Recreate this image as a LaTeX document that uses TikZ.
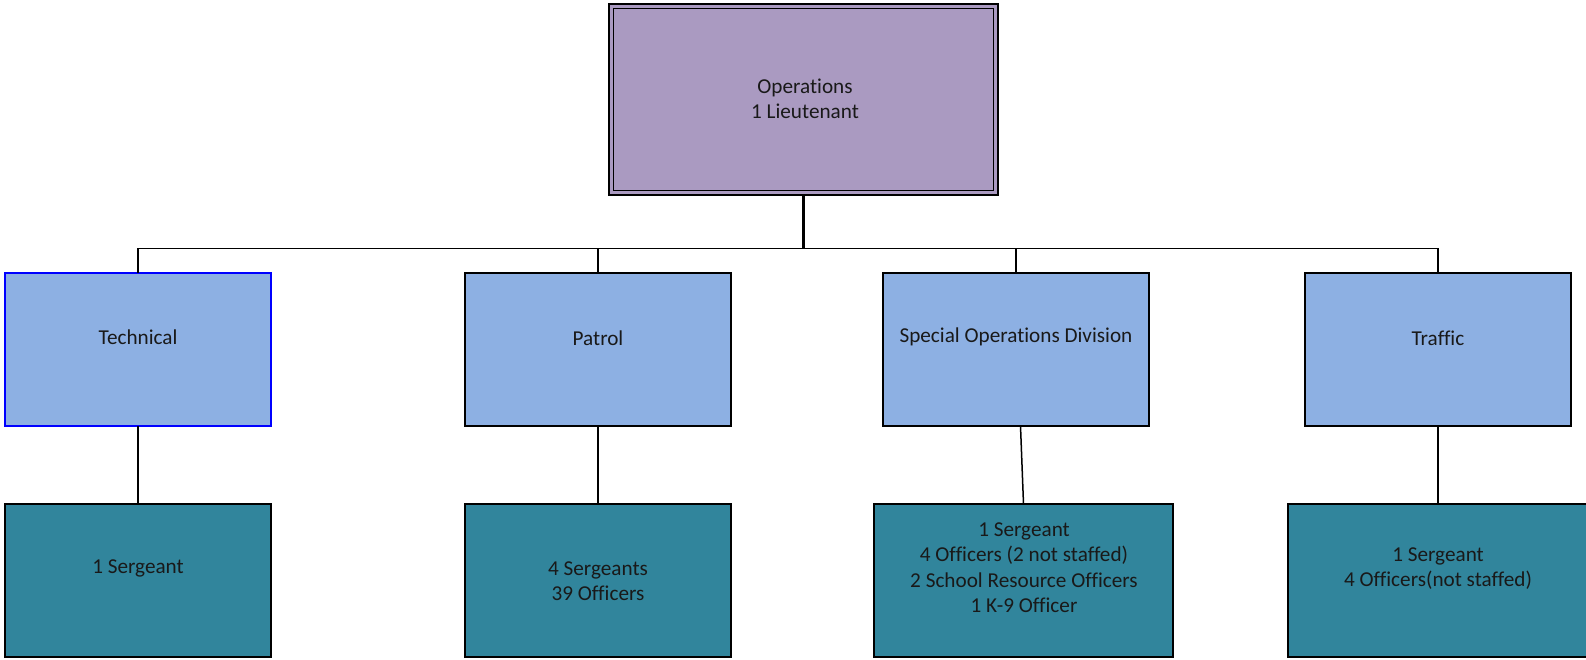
\documentclass[tikz,border=0pt]{standalone}
\usepackage{fontspec}
\setmainfont{Carlito}[Ligatures=NoCommon]
\usetikzlibrary{calc}
\definecolor{opsfill}{HTML}{AA9AC1}
\definecolor{unitfill}{HTML}{8DB0E3}
\definecolor{stafffill}{HTML}{31859C}
\begin{document}
\begin{tikzpicture}[x=1pt,y=-1pt,
  box/.style={draw=black, line width=1.5pt, minimum width=266pt, minimum height=153pt, inner sep=0pt, outer sep=0pt},
  unit/.style={box, fill=unitfill},
  staff/.style={box, fill=stafffill},
  lbl/.style={align=center, font=\fontsize{21.2}{25.5}\selectfont, inner sep=0pt, text=black!90},
  link/.style={draw=black, line width=1.5pt, line join=miter}]
\useasboundingbox (0,0) rectangle (1586,659);

% top box with a double frame
\node[draw=black, line width=2pt, fill=opsfill, minimum width=389pt, minimum height=191pt, inner sep=0pt, outer sep=0pt] (ops) at (803.5,99.5) {};
\draw[line width=1.5pt] ($(ops.north west)+(4.5,4.5)$) rectangle ($(ops.south east)+(-4.5,-4.5)$);
\node[lbl] (ops-t) at (805,99) {Operations\\ 1 Lieutenant};

% second row
\node[unit, draw=blue] (tech) at (138,349.5) {};
\node[unit] (patrol) at (598,349.5) {};
\node[unit] (sod) at (1016,349.5) {};
\node[unit] (traffic) at (1438,349.5) {};
\node[lbl] (tech-t) at (138,337) {Technical};
\node[lbl] (patrol-t) at (598,338) {Patrol};
\node[lbl] (sod-t) at (1016,337) {Special Operations Division};
\node[lbl] (traffic-t) at (1438,338) {Traffic};

% third row
\node[staff] (techb) at (138,580.5) {};
\node[staff] (patrolb) at (598,580.5) {};
\node[staff, minimum width=299pt] (sodb) at (1023.5,580.5) {};
\node[staff, minimum width=300pt] (trafficb) at (1438,580.5) {};
\node[lbl] (techb-t) at (138,568) {1 Sergeant};
\node[lbl] (patrolb-t) at (598,581) {4 Sergeants\\39 Officers};
\node[lbl] (sodb-t) at (1024,567.5) {1 Sergeant\\4 Officers (2 not staffed)\\2 School Resource Officers\\1 K-9 Officer};
\node[lbl] (trafficb-t) at (1438,568.5) {1 Sergeant\\4 Officers(not staffed)};

% connectors
\coordinate (bus) at (803.5,248.5);
\draw[line width=2.5pt] (ops.south) -- (ops.south |- bus);
\draw[link] (tech.north) |- (bus) -| (traffic.north);
\draw[link] (patrol.north) -- (patrol.north |- bus);
\draw[link] (sod.north) -- (sod.north |- bus);
\draw[link] (tech.south) -- (techb.north);
\draw[link] (patrol.south) -- (patrolb.north);
\draw[link] ([xshift=4.5pt]sod.south) -- (sodb.north);
\draw[link] (traffic.south) -- (trafficb.north);
\end{tikzpicture}
\end{document}
